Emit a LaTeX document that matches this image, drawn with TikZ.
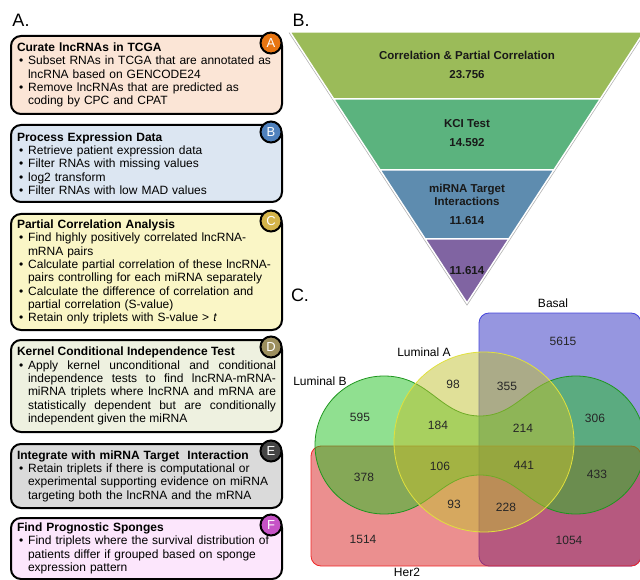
\documentclass[tikz,border=0pt]{standalone}
\usepackage{fontspec}
\setmainfont{Liberation Sans}
\usepackage{enumitem}
\usepackage{tikz}
\usetikzlibrary{positioning}

\setlist[itemize]{nosep, label=\textbullet, align=left, leftmargin=11pt, labelindent=2pt, labelwidth=4pt, labelsep=5pt}

\definecolor{curateFill}{HTML}{FBE5D6}
\definecolor{curateDot}{HTML}{E87511}
\definecolor{processFill}{HTML}{DCE6F2}
\definecolor{processDot}{HTML}{4F81BD}
\definecolor{partialFill}{HTML}{FAF6C6}
\definecolor{partialDot}{HTML}{D4B44A}
\definecolor{kernelFill}{HTML}{EEF1E0}
\definecolor{kernelDot}{HTML}{9C8F5E}
\definecolor{targetFill}{HTML}{DADADA}
\definecolor{targetDot}{HTML}{454545}
\definecolor{spongeFill}{HTML}{FCE6FC}
\definecolor{spongeDot}{HTML}{C653C6}
\definecolor{layerA}{HTML}{9BBB59}
\definecolor{layerB}{HTML}{5BB37E}
\definecolor{layerC}{HTML}{5E8CAF}
\definecolor{layerD}{HTML}{8064A2}
\definecolor{basalFill}{HTML}{2D2DC1}
\definecolor{basalLine}{HTML}{4646DC}
\definecolor{herFill}{HTML}{D71F1F}
\definecolor{herLine}{HTML}{F02828}
\definecolor{lumBFill}{HTML}{21C121}
\definecolor{lumBLine}{HTML}{1E961E}
\definecolor{lumAFill}{HTML}{C1C131}
\definecolor{lumALine}{HTML}{E1E13C}

\begin{document}
\begin{tikzpicture}[
  x=1pt, y=-1pt,
  font=\fontsize{12}{13.3}\selectfont,
  stepbox/.style={draw, line width=2pt, rounded corners=10pt, text width=259pt, inner xsep=6pt, inner ysep=2pt, align=left},
  badge/.style={circle, draw, line width=2pt, minimum size=21pt, inner sep=0pt, text=white, font=\fontsize{13}{13}\selectfont},
  panel/.style={font=\fontsize{18}{18}\selectfont},
  layer/.style={draw=white, line width=1.5pt},
  layertext/.style={align=center, text=black!90, font=\fontsize{11.5}{13}\selectfont\bfseries},
  vset/.style={fill opacity=0.5, draw opacity=1, line width=0.8pt},
  vnum/.style={text=black!85},
  node distance=8pt
]
\useasboundingbox (0,0) rectangle (640,580);

% A. pipeline
\node[panel] (labA) at (21,20) {A.};
\node[stepbox, fill=curateFill, minimum height=78pt, anchor=north west] (curate) at (10,35) {%
  \textbf{Curate lncRNAs in TCGA}
  \begin{itemize}
    \item Subset RNAs in TCGA that are annotated as\newline lncRNA based on GENCODE24
    \item Remove lncRNAs that are predicted as\newline coding by CPC and CPAT
  \end{itemize}};
\node[stepbox, fill=processFill, minimum height=77pt, below=9pt of curate] (process) {%
  \textbf{Process Expression Data}
  \begin{itemize}
    \item Retrieve patient expression data
    \item Filter RNAs with missing values
    \item log2 transform
    \item Filter RNAs with low MAD values
  \end{itemize}};
\node[stepbox, fill=partialFill, minimum height=116pt, below=10pt of process] (partial) {%
  \textbf{Partial Correlation Analysis}
  \begin{itemize}
    \item Find highly positively correlated lncRNA-\newline mRNA pairs
    \item Calculate partial correlation of these lncRNA-\newline pairs controlling for each miRNA separately
    \item Calculate the difference of correlation and\newline partial correlation (S-value)
    \item Retain only triplets with S-value > \textit{t}
  \end{itemize}};
\node[stepbox, fill=kernelFill, minimum height=92pt, align=justify, below=8pt of partial] (kernel) {%
  \textbf{Kernel Conditional Independence Test}
  \begin{itemize}
    \item Apply kernel unconditional and conditional\linebreak
      independence tests to find lncRNA-mRNA-\linebreak
      miRNA triplets where lncRNA and mRNA are\linebreak
      statistically dependent but are conditionally\linebreak
      independent given the miRNA
  \end{itemize}};
\node[stepbox, fill=targetFill, minimum height=64pt, below=10pt of kernel] (target) {%
  \textbf{Integrate with miRNA Target\ \ Interaction}
  \begin{itemize}
    \item Retain triplets if there is computational or\newline experimental supporting evidence on miRNA\newline targeting both the lncRNA and the mRNA
  \end{itemize}};
\node[stepbox, fill=spongeFill, minimum height=61pt, below=8pt of target] (sponge) {%
  \textbf{Find Prognostic Sponges}
  \begin{itemize}
    \item Find triplets where the survival distribution of\newline patients differ if grouped based on sponge\newline expression pattern
  \end{itemize}};

\node[badge, fill=curateDot]  (dotA) at ([xshift=-12pt, yshift=-8pt]curate.north east)  {A};
\node[badge, fill=processDot] (dotB) at ([xshift=-12pt, yshift=-8pt]process.north east) {B};
\node[badge, fill=partialDot] (dotC) at ([xshift=-12pt, yshift=-8pt]partial.north east) {C};
\node[badge, fill=kernelDot]  (dotD) at ([xshift=-12pt, yshift=-8pt]kernel.north east)  {D};
\node[badge, fill=targetDot]  (dotE) at ([xshift=-12pt, yshift=-8pt]target.north east)  {E};
\node[badge, fill=spongeDot]  (dotF) at ([xshift=-12pt, yshift=-8pt]sponge.north east)  {F};

% B. funnel
\node[panel] (labB) at (301,20) {B.};
\draw[black!30, line width=3pt] (290,32) -- (467,303) -- (644,32);
\path[layer, fill=layerA] (290,32) -- (644,32) -- (600.3,99) -- (333.7,99) -- cycle;
\path[layer, fill=layerB] (333.7,99) -- (600.3,99) -- (553.9,170) -- (380.1,170) -- cycle;
\path[layer, fill=layerC] (380.1,170) -- (553.9,170) -- (508.8,239) -- (425.2,239) -- cycle;
\path[layer, fill=layerD] (425.2,239) -- (508.8,239) -- (467,303) -- cycle;
\node[layertext] (corr)  at (467,64.5) {Correlation \& Partial Correlation\\[6pt]23.756};
\node[layertext] (kci)   at (467,133.5) {KCI Test\\[6pt]14.592};
\node[layertext] (mirna) at (467,204) {miRNA Target\\Interactions\\[6pt]11.614};
\node[layertext] (final) at (467,271) {11.614};

% C. venn
\node[panel] (labC) at (300,295) {C.};
\path[vset, fill=basalFill, draw=basalLine, rounded corners=10pt] (479,313) rectangle (641,566);
\path[vset, fill=herFill, draw=herLine, rounded corners=10pt] (311,446) rectangle (641,566);
\path[vset, fill=lumBFill, draw=lumBLine] (384,376)
  .. controls (430,376) and (440,416) .. (480,416)
  .. controls (520,416) and (530,376) .. (576,376)
  .. controls (614.1,376) and (645,406.9) .. (645,445)
  .. controls (645,483.1) and (614.1,514) .. (576,514)
  .. controls (530,514) and (520,475) .. (480,475)
  .. controls (440,475) and (430,514) .. (384,514)
  .. controls (345.9,514) and (315,483.1) .. (315,445)
  .. controls (315,406.9) and (345.9,376) .. (384,376) -- cycle;
\path[vset, fill=lumAFill, draw=lumALine] (484,442) circle[radius=90];

\node (basal) at (553,303) {Basal};
\node (lumA)  at (424,352) {Luminal A};
\node (lumB)  at (320,381) {Luminal B};
\node (her)   at (407,572) {Her2};

\node[vnum] (n5615) at (563,341) {5615};
\node[vnum] (n98)   at (453,384) {98};
\node[vnum] (n355)  at (507,386) {355};
\node[vnum] (n595)  at (360,417) {595};
\node[vnum] (n184)  at (438,425) {184};
\node[vnum] (n214)  at (523,428) {214};
\node[vnum] (n306)  at (595,418) {306};
\node[vnum] (n378)  at (364,477) {378};
\node[vnum] (n106)  at (440,466) {106};
\node[vnum] (n441)  at (524,465) {441};
\node[vnum] (n433)  at (597,474) {433};
\node[vnum] (n93)   at (454,504) {93};
\node[vnum] (n228)  at (506,507) {228};
\node[vnum] (n1514) at (363,539) {1514};
\node[vnum] (n1054) at (569,540) {1054};
\end{tikzpicture}
\end{document}
